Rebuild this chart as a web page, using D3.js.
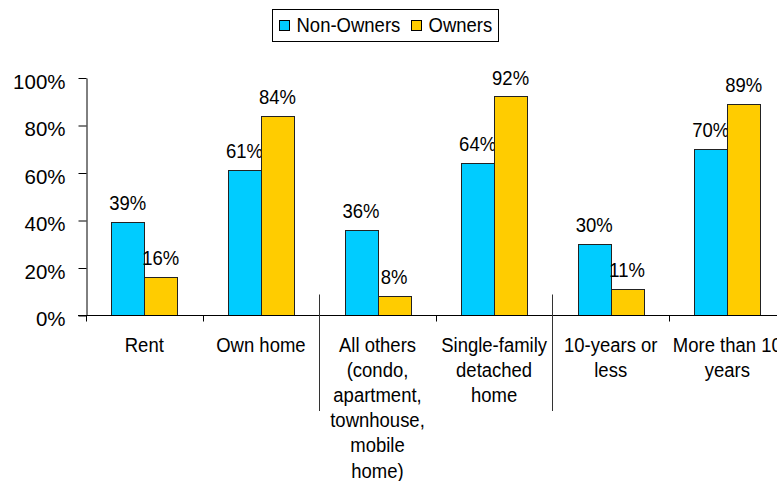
<!DOCTYPE html>
<html>
<head>
<meta charset="utf-8">
<script src="https://cdn.jsdelivr.net/npm/d3@7"></script>
<style>
  html, body { margin: 0; padding: 0; background: #fff; }
  svg { display: block; }
  text { font-family: "Liberation Sans", Arial, sans-serif; fill: #000; }
</style>
</head>
<body>
<svg id="chart" width="777" height="481"></svg>
<script>
const categories = [
  "Rent",
  "Own home",
  "All others\n(condo,\napartment,\ntownhouse,\nmobile\nhome)",
  "Single-family\ndetached\nhome",
  "10-years or\nless",
  "More than 10\nyears"
];
const seriesNames = ["Non-Owners", "Owners"];
const nonOwners = [39, 61, 36, 64, 30, 70];
const owners = [16, 84, 8, 92, 11, 89];
const yTicks = [0, 20, 40, 60, 80, 100];
const groupStarts = [2, 4]; // categories that begin a new outer group
const colors = ["#00CCFF", "#FFCC00"];

const W = 777, H = 481;
const margin = { left: 86, top: 77.5, bottom: 315, right: 785.6 };
const FS = 18.5, SY = 1.1;

const svg = d3.select("#chart");

const x = d3.scaleBand().domain(d3.range(categories.length))
  .range([margin.left, margin.right]).paddingInner(0).paddingOuter(0);
const xs = d3.scaleBand().domain(seriesNames)
  .range([0, x.bandwidth()]).paddingInner(0).paddingOuter(0.767);
const y = d3.scaleLinear().domain([0, 100]).range([margin.bottom, margin.top]);

const rows = categories.map((c, i) => ({ i, c, vals: [nonOwners[i], owners[i]] }));

function sText(sel, px, py, fs, sy) {
  return sel.attr("transform", `translate(${px},${py}) scale(1,${sy || SY})`)
    .style("font-size", (fs || FS) + "px");
}

// bars
const g = svg.append("g");
rows.forEach(r => {
  r.vals.forEach((v, k) => {
    const bx = x(r.i) + xs(seriesNames[k]);
    g.append("rect")
      .attr("x", Math.round(bx) + 0.5)
      .attr("y", Math.round(y(v)) + 0.5)
      .attr("width", Math.round(xs.bandwidth()))
      .attr("height", Math.round(y(0)) - Math.round(y(v)))
      .attr("fill", colors[k])
      .attr("stroke", "#222")
      .attr("stroke-width", 1);
    g.append("text")
      .attr("text-anchor", "middle")
      .text(v + "%")
      .call(sText, bx + xs.bandwidth() / 2, y(v) - 12);
  });
});

// y axis
const yAxis = svg.append("g")
  .attr("transform", `translate(${margin.left + 0.5},0.5)`)
  .call(d3.axisLeft(y).tickValues(yTicks).tickSize(8).tickSizeOuter(0).tickFormat(d => d + "%"));
yAxis.select(".domain").attr("stroke", "#000");
yAxis.selectAll(".tick line").attr("stroke", "#000");
yAxis.selectAll(".tick text").each(function (d) {
  d3.select(this)
    .attr("x", null).attr("dy", null)
    .attr("text-anchor", "end")
    .attr("font-family", null).attr("font-size", null)
    .call(sText, -21, 10.4, 20.5, 1.03);
});

// x axis baseline
const xb = Math.round(y(0)) + 0.5;
svg.append("line")
  .attr("x1", margin.left - 8).attr("x2", margin.right)
  .attr("y1", xb).attr("y2", xb)
  .attr("stroke", "#000");

// x ticks / group separators
d3.range(categories.length).forEach(i => {
  const tx = Math.round(x(i)) + 0.5;
  const isGroup = groupStarts.includes(i);
  svg.append("line")
    .attr("x1", tx).attr("x2", tx)
    .attr("y1", isGroup ? xb - 21 : xb)
    .attr("y2", isGroup ? 411 : xb + 6)
    .attr("stroke", isGroup ? "#333" : "#000");
});

// category labels
rows.forEach(r => {
  const lines = r.c.split("\n");
  lines.forEach((ln, j) => {
    svg.append("text")
      .attr("text-anchor", "middle")
      .text(ln)
      .call(sText, x(r.i) + x.bandwidth() / 2, 351.5 + j * 25.2);
  });
});

// legend
const lg = svg.append("g");
lg.append("rect")
  .attr("x", 272.5).attr("y", 9.5).attr("width", 226).attr("height", 32)
  .attr("fill", "#fff").attr("stroke", "#000");
const legendX = [279.5, 411.5];
seriesNames.forEach((s, k) => {
  lg.append("rect")
    .attr("x", legendX[k]).attr("y", 20.5).attr("width", 10).attr("height", 10)
    .attr("fill", colors[k]).attr("stroke", "#000");
  lg.append("text")
    .text(s)
    .call(sText, legendX[k] + 17, 32);
});
</script>
</body>
</html>
